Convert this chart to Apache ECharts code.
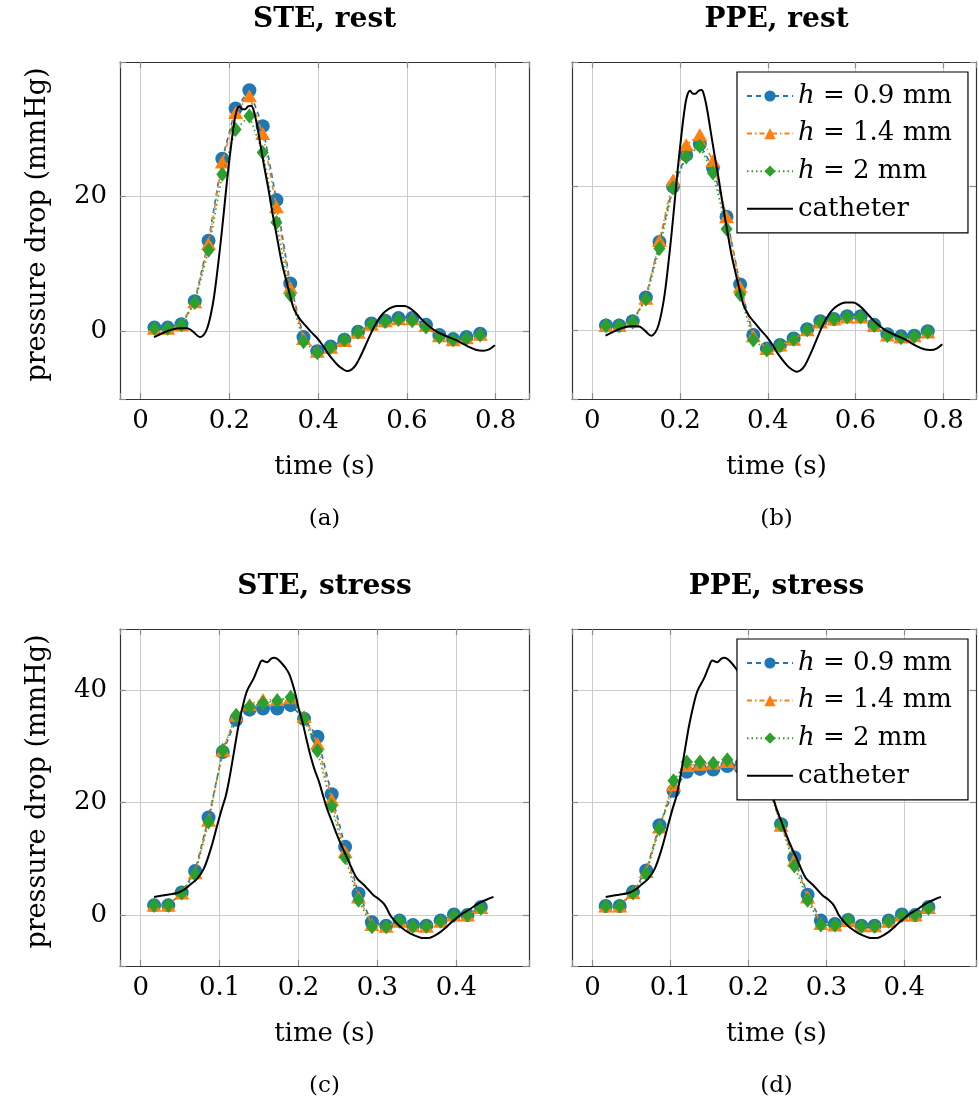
<!DOCTYPE html>
<html><head><meta charset="utf-8">
<script src="https://cdn.jsdelivr.net/npm/echarts@6/dist/echarts.min.js"></script>
<style>html,body{margin:0;padding:0;background:#fff}#c{width:979px;height:1103px}</style>
</head><body><div id="c"></div>
<script>
// ---- data ----
const tRest = [0.031,0.061,0.092,0.122,0.153,0.184,0.214,0.245,0.275,0.306,0.337,0.367,0.398,0.428,0.459,0.490,0.520,0.551,0.581,0.612,0.643,0.673,0.704,0.734,0.765];
const tStress = [0.017,0.035,0.052,0.069,0.086,0.104,0.121,0.138,0.155,0.173,0.190,0.207,0.224,0.242,0.259,0.276,0.293,0.311,0.328,0.345,0.362,0.380,0.397,0.414,0.431];

const steRestH09 = [0.6,0.6,1.1,4.5,13.4,25.5,32.9,35.6,30.3,19.4,7.1,-0.8,-2.9,-2.2,-1.2,0.0,1.2,1.6,2.0,2.0,1.0,-0.5,-1.1,-0.8,-0.3];
const steRestH14 = [0.5,0.5,1.0,4.4,13.0,25.0,32.3,34.8,29.2,18.4,6.5,-1.0,-2.9,-2.3,-1.3,-0.1,1.1,1.6,1.9,1.9,0.9,-0.6,-1.2,-0.9,-0.4];
const steRestH2  = [0.5,0.5,1.0,4.3,12.0,23.2,29.8,31.8,26.4,16.1,5.4,-1.5,-3.1,-2.3,-1.2,-0.1,1.1,1.5,1.8,1.6,0.7,-0.8,-1.2,-1.0,-0.5];

const ppeRestH09 = [0.6,0.6,1.2,4.5,12.2,19.9,24.3,25.8,22.5,15.7,6.3,-0.7,-2.6,-2.1,-1.2,0.1,1.2,1.5,1.9,1.9,0.7,-0.6,-0.9,-0.8,-0.2];
const ppeRestH14 = [0.6,0.6,1.2,4.4,12.4,20.8,25.7,27.1,23.5,15.7,6.0,-0.8,-2.6,-2.1,-1.3,0.0,1.1,1.5,1.8,1.8,0.6,-0.7,-1.0,-0.8,-0.3];
const ppeRestH2  = [0.6,0.6,1.1,4.3,11.3,19.7,24.0,25.5,21.8,14.0,4.9,-1.4,-2.8,-2.2,-1.3,0.0,1.1,1.5,1.8,1.8,0.6,-0.8,-1.1,-0.9,-0.3];

const steStressH09 = [1.8,1.8,4.1,7.9,17.4,29.0,34.7,36.5,36.7,36.7,37.3,34.9,31.7,21.5,12.2,3.9,-1.2,-1.8,-0.9,-1.7,-1.8,-0.9,0.2,0.1,1.5];
const steStressH14 = [1.8,1.8,4.0,7.6,16.9,29.3,35.5,37.4,38.3,38.3,38.6,35.3,30.5,20.6,11.3,3.3,-1.6,-1.9,-1.0,-1.8,-1.9,-1.0,0.1,0.1,1.4];
const steStressH2  = [1.8,1.8,4.0,7.3,16.6,29.3,35.5,37.0,37.7,38.1,38.7,34.9,29.2,19.4,10.3,2.7,-2.0,-2.0,-1.0,-1.9,-1.9,-1.0,0.0,0.1,1.3];

const ppeStressH09 = [1.7,1.7,4.2,8.0,16.0,22.1,25.5,26.0,25.9,26.5,26.3,25.6,24.0,16.2,10.3,3.7,-0.9,-1.5,-0.8,-1.8,-1.8,-0.9,0.2,0.1,1.5];
const ppeStressH14 = [1.7,1.7,4.1,7.8,15.7,23.2,26.6,26.8,27.0,27.3,27.0,26.0,23.8,16.0,9.8,3.3,-1.4,-1.7,-0.9,-1.8,-1.8,-1.0,0.1,0.1,1.4];
const ppeStressH2  = [1.7,1.7,4.0,7.4,15.4,23.9,27.2,27.2,27.0,27.6,27.2,26.2,23.5,16.1,8.8,2.7,-1.7,-1.7,-0.8,-1.9,-1.9,-1.0,0.0,0.1,1.3];

const cathRestT = [0.030,0.050,0.070,0.090,0.105,0.118,0.128,0.135,0.143,0.150,0.158,0.165,0.172,0.180,0.188,0.195,0.203,0.210,0.216,0.223,0.229,0.235,0.242,0.249,0.255,0.262,0.270,0.278,0.288,0.297,0.307,0.317,0.327,0.336,0.345,0.357,0.370,0.385,0.397,0.410,0.422,0.434,0.445,0.455,0.465,0.475,0.485,0.497,0.509,0.520,0.532,0.545,0.560,0.577,0.595,0.610,0.622,0.635,0.650,0.667,0.690,0.712,0.735,0.757,0.772,0.785,0.798];
const cathRestP = [-0.8,-0.2,0.3,0.5,0.5,0.0,-0.6,-0.8,-0.4,0.5,2.5,5.0,8.5,13.0,18.0,22.5,27.0,30.5,32.5,33.2,32.8,32.8,33.2,33.3,32.5,30.5,27.5,24.5,21.0,17.5,14.0,10.5,7.8,5.5,3.4,2.0,1.0,-0.1,-0.9,-2.0,-3.2,-4.2,-5.0,-5.5,-5.8,-5.6,-4.9,-3.4,-1.7,-0.1,1.4,2.6,3.4,3.8,3.8,3.3,2.6,1.7,0.8,0.0,-0.7,-1.3,-2.1,-2.7,-2.8,-2.6,-2.0];

const cathStressT = [0.017,0.034,0.046,0.055,0.063,0.072,0.080,0.089,0.097,0.103,0.108,0.112,0.116,0.120,0.124,0.130,0.135,0.143,0.149,0.154,0.160,0.165,0.169,0.173,0.177,0.183,0.188,0.192,0.196,0.200,0.205,0.210,0.215,0.220,0.226,0.231,0.236,0.242,0.249,0.255,0.262,0.268,0.274,0.283,0.289,0.295,0.302,0.308,0.312,0.316,0.322,0.329,0.336,0.342,0.350,0.357,0.364,0.372,0.380,0.386,0.392,0.399,0.405,0.412,0.418,0.424,0.430,0.438,0.447];
const cathStressP = [3.3,3.7,4.0,4.6,5.5,6.6,8.3,11.9,16.0,19.0,21.3,24.0,27.2,30.5,33.7,37.5,39.9,42.0,44.0,45.2,44.9,45.5,45.7,45.5,45.0,44.0,42.9,41.3,39.3,36.8,34.3,31.3,28.4,26.0,23.7,21.3,19.0,16.8,14.2,12.2,10.1,8.2,6.6,5.4,4.5,3.6,2.9,2.1,1.2,0.1,-1.0,-2.0,-2.7,-3.2,-3.7,-4.0,-4.0,-3.6,-2.9,-2.2,-1.4,-0.6,0.1,0.7,1.2,1.8,2.3,2.8,3.3];

const xTicksRest = [0, 0.2, 0.4, 0.6, 0.8];
const xTicksStress = [0, 0.1, 0.2, 0.3, 0.4];
const yTicksRest = [0, 20];
const yTicksStress = [0, 20, 40];

const panelTitles = ['STE, rest', 'PPE, rest', 'STE, stress', 'PPE, stress'];
const subCaptions = ['(a)', '(b)', '(c)', '(d)'];
const seriesNames = ['h09', 'h14', 'h2', 'catheter'];
const legendLabels = {h09: '{i|h} = 0.9 mm', h14: '{i|h} = 1.4 mm', h2: '{i|h} = 2 mm', catheter: 'catheter'};

// ---- helpers ----
const FONT = 'DejaVu Serif';
const zip = (xs, ys) => xs.map((x, i) => [x, ys[i]]);
const inTicks = (v, ticks) => ticks.some(t => Math.abs(t - v) < 1e-6);
const fmt = (ticks) => (v) => inTicks(v, ticks) ? String(Math.round(v * 10) / 10) : '';

const panels = [
  {grid: {left: 120, top: 62, width: 409, height: 337}, x: [-0.0465, 0.875], y: [-9.93, 39.76], xt: xTicksRest, yt: yTicksRest, ylab: true,
   s: [steRestH09, steRestH14, steRestH2], t: tRest, cT: cathRestT, cP: cathRestP},
  {grid: {left: 572, top: 62, width: 409, height: 337}, x: [-0.0465, 0.875], y: [-9.6, 37.2], xt: xTicksRest, yt: yTicksRest, ylab: false,
   s: [ppeRestH09, ppeRestH14, ppeRestH2], t: tRest, cT: cathRestT, cP: cathRestP},
  {grid: {left: 120, top: 629, width: 409, height: 337}, x: [-0.0262, 0.492], y: [-8.95, 50.8], xt: xTicksStress, yt: yTicksStress, ylab: true,
   s: [steStressH09, steStressH14, steStressH2], t: tStress, cT: cathStressT, cP: cathStressP},
  {grid: {left: 572, top: 629, width: 409, height: 337}, x: [-0.0262, 0.492], y: [-8.95, 50.8], xt: xTicksStress, yt: yTicksStress, ylab: false,
   s: [ppeStressH09, ppeStressH14, ppeStressH2], t: tStress, cT: cathStressT, cP: cathStressP}
];

const BOX = '#333';
const GRIDC = '#cccccc';
const TICKC = '#8a8a8a';
const grids = [], xAxes = [], yAxes = [], series = [], graphics = [];

const styles = [
  {color: '#1f77b4', symbol: 'circle', size: 14, type: [5, 4]},
  {color: '#ff7f0e', symbol: 'triangle', size: [15, 13], type: [5, 3, 1.5, 3]},
  {color: '#2ca02c', symbol: 'diamond', size: [12, 15], type: [1.5, 3]}
];

panels.forEach((p, gi) => {
  grids.push(Object.assign({containLabel: false}, p.grid));
  const baseX = {type: 'value', gridIndex: gi, min: p.x[0], max: p.x[1], splitNumber: 5};
  const baseY = {type: 'value', gridIndex: gi, min: p.y[0], max: p.y[1], splitNumber: 3};
  xAxes.push(Object.assign({}, baseX, {
    position: 'bottom',
    axisLine: {show: true, onZero: false, lineStyle: {color: BOX, width: 1.2}},
    axisTick: {show: true, inside: true, length: 6, lineStyle: {color: TICKC, width: 1.2}},
    axisLabel: {show: true, margin: 9, formatter: fmt(p.xt), fontFamily: FONT, fontSize: 26, color: '#000', showMinLabel: true, showMaxLabel: true},
    splitLine: {show: true, lineStyle: {color: GRIDC, width: 1}}
  }));
  xAxes.push(Object.assign({}, baseX, {
    position: 'top',
    axisLine: {show: true, onZero: false, lineStyle: {color: BOX, width: 1.2}},
    axisTick: {show: true, inside: true, length: 6, lineStyle: {color: TICKC, width: 1.2}},
    axisLabel: {show: false},
    splitLine: {show: false}
  }));
  yAxes.push(Object.assign({}, baseY, {
    position: 'left',
    axisLine: {show: true, onZero: false, lineStyle: {color: BOX, width: 1.2}},
    axisTick: {show: true, inside: true, length: 6, lineStyle: {color: TICKC, width: 1.2}},
    axisLabel: {show: p.ylab, margin: 13, formatter: fmt(p.yt), fontFamily: FONT, fontSize: 26, color: '#000'},
    splitLine: {show: true, lineStyle: {color: GRIDC, width: 1}}
  }));
  yAxes.push(Object.assign({}, baseY, {
    position: 'right',
    axisLine: {show: true, onZero: false, lineStyle: {color: BOX, width: 1.2}},
    axisTick: {show: true, inside: true, length: 6, lineStyle: {color: TICKC, width: 1.2}},
    axisLabel: {show: false},
    splitLine: {show: false}
  }));
  const xi = gi * 2, yi = gi * 2;
  p.s.forEach((vals, k) => {
    const st = styles[k];
    series.push({
      type: 'line', name: seriesNames[k], xAxisIndex: xi, yAxisIndex: yi,
      data: zip(p.t, vals), symbol: st.symbol, symbolSize: st.size, showSymbol: true,
      itemStyle: {color: st.color, borderWidth: 0},
      lineStyle: {color: st.color, width: 1.6, type: st.type},
      z: 3 + k, animation: false
    });
  });
  series.push({
    type: 'line', name: 'catheter', xAxisIndex: xi, yAxisIndex: yi,
    data: zip(p.cT, p.cP), symbol: 'none', showSymbol: false, smooth: 0.35,
    itemStyle: {color: '#000'},
    lineStyle: {color: '#000', width: 2},
    z: 7, animation: false
  });
  const cx = p.grid.left + p.grid.width / 2;
  const rowOff = gi < 2 ? 0 : 567;
  graphics.push({type: 'text', x: cx, y: 20 + rowOff, style: {text: panelTitles[gi], x: 0, y: 0, font: 'bold 28px "' + FONT + '"', fill: '#000', align: 'center', verticalAlign: 'middle', textAlign: 'center', textVerticalAlign: 'middle'}});
  graphics.push({type: 'text', x: cx, y: 467 + rowOff, style: {text: 'time (s)', x: 0, y: 0, font: '26px "' + FONT + '"', fill: '#000', align: 'center', verticalAlign: 'middle', textAlign: 'center', textVerticalAlign: 'middle'}});
  graphics.push({type: 'text', x: cx, y: 519 + rowOff, style: {text: subCaptions[gi], x: 0, y: 0, font: '23px "' + FONT + '"', fill: '#000', align: 'center', verticalAlign: 'middle', textAlign: 'center', textVerticalAlign: 'middle'}});
  if (p.ylab) {
    graphics.push({type: 'text', x: 38, y: p.grid.top + p.grid.height / 2 - 6, rotation: Math.PI / 2, style: {text: 'pressure drop (mmHg)', x: 0, y: 0, font: '27px "' + FONT + '"', fill: '#000', align: 'center', verticalAlign: 'middle', textAlign: 'center', textVerticalAlign: 'middle'}});
  }
});

const legendBase = {
  data: ['h09', 'h14', 'h2', {name: 'catheter', itemStyle: {opacity: 0}}],
  orient: 'vertical', left: 737,
  backgroundColor: '#fff', borderColor: '#000', borderWidth: 1.2, borderRadius: 0,
  padding: [9, 16, 9, 9], itemGap: 7.6, itemWidth: 46, itemHeight: 14,
  formatter: (n) => legendLabels[n],
  textStyle: {fontFamily: FONT, fontSize: 26, color: '#000', lineHeight: 30,
    rich: {i: {fontFamily: FONT, fontSize: 26, fontStyle: 'italic', color: '#000', lineHeight: 30}}},
  selectedMode: false, z: 20
};

const option = {
  animation: false,
  backgroundColor: '#fff',
  grid: grids, xAxis: xAxes, yAxis: yAxes, series: series,
  legend: [Object.assign({}, legendBase, {top: 72}), Object.assign({}, legendBase, {top: 639})],
  graphic: graphics
};

const chart = echarts.init(document.getElementById('c'), null, {renderer: 'canvas'});
chart.setOption(option);
</script></body></html>
